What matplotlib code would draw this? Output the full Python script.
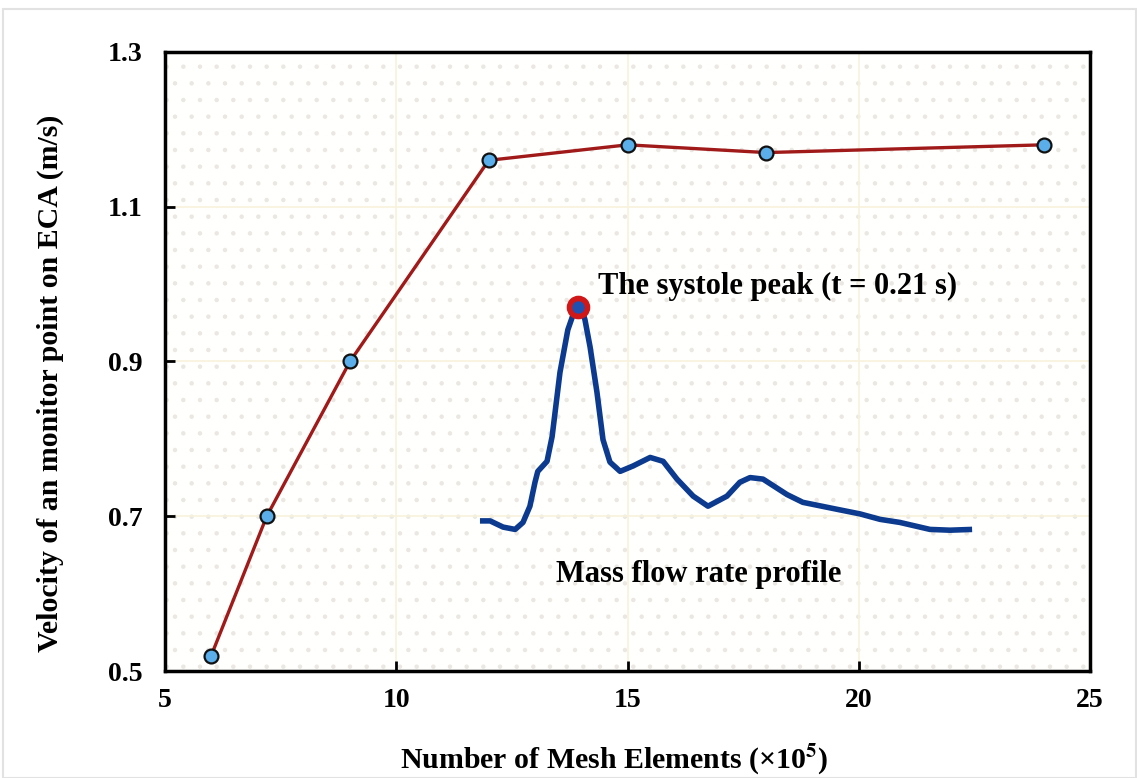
import matplotlib.pyplot as plt
import matplotlib.patches as mpatches

plt.rcParams['font.family'] = ['Liberation Serif', 'DejaVu Serif']
plt.rcParams['font.weight'] = 'bold'
plt.rcParams['mathtext.fontset'] = 'stix'
plt.rcParams['hatch.linewidth'] = 0.8

# mesh independence data (x in 1e5 elements)
mesh = [6, 7.2, 9, 12, 15, 18, 24]
velocity = [0.52, 0.70, 0.90, 1.16, 1.18, 1.17, 1.18]

# inset mass flow rate profile (plotted in data coords)
profile_x = [11.81, 12.03, 12.31, 12.57, 12.74, 12.89, 13.0, 13.06, 13.26, 13.37,
             13.54, 13.71, 13.85, 13.93, 14.02, 14.08, 14.19, 14.34, 14.47, 14.62,
             14.84, 15.12, 15.49, 15.77, 16.07, 16.42, 16.74, 17.15, 17.43, 17.65,
             17.93, 18.45, 18.79, 19.53, 20.03, 20.46, 20.89, 21.54, 21.97, 22.45]
profile_y = [0.694, 0.694, 0.686, 0.683, 0.692, 0.713, 0.744, 0.758, 0.771, 0.803,
             0.886, 0.941, 0.965, 0.971, 0.966, 0.954, 0.919, 0.860, 0.799, 0.770,
             0.758, 0.765, 0.776, 0.771, 0.748, 0.726, 0.713, 0.726, 0.744, 0.750,
             0.748, 0.728, 0.718, 0.709, 0.703, 0.696, 0.692, 0.683, 0.682, 0.683]
peak = (13.93, 0.971)

fig = plt.figure(figsize=(11.37, 7.78), dpi=100)
fig.patches.append(mpatches.Rectangle((0.003, 0.0), 0.996, 0.989, transform=fig.transFigure,
                                      fill=False, edgecolor='#e2e2e2', linewidth=1.5))
ax = fig.add_axes([0.1451, 0.1375, 0.8136, 0.7957])
ax.set_facecolor('#fffffd')
# dotted paper background
ax.add_patch(mpatches.Rectangle((0, 0), 1, 1, transform=ax.transAxes, fill=False,
                                hatch='.', edgecolor='#ebe8e3', linewidth=0, zorder=0))

ax.grid(True, color='#f7f2dc', linewidth=1.2)
ax.set_axisbelow(True)

ax.plot(mesh, velocity, color='#a01a1a', linewidth=2.4, marker='o', markersize=10,
        markerfacecolor='#5aaeea', markeredgecolor='#111111', markeredgewidth=1.6, zorder=3)

ax.plot(profile_x, profile_y, color='#0b3a8e', linewidth=4, solid_capstyle='butt',
        solid_joinstyle='round', zorder=3)
ax.plot(*peak, marker='o', markersize=13, markerfacecolor='#2050b0', markeredgecolor='#d01818',
        markeredgewidth=4, zorder=4)

ax.text(14.36, 0.997, 'The systole peak (t = 0.21 s)', fontsize=22, fontweight='bold',
        ha='left', va='center')
ax.text(13.45, 0.625, 'Mass flow rate profile', fontsize=22, fontweight='bold',
        ha='left', va='center')

ax.set_xlim(5, 25)
ax.set_ylim(0.5, 1.3)
ax.set_xticks([5, 10, 15, 20, 25])
ax.set_yticks([0.5, 0.7, 0.9, 1.1, 1.3])
ax.set_yticklabels(['0.5', '0.7', '0.9', '1.1', '1.3'])
ax.tick_params(direction='in', length=7, width=2, labelsize=20, pad=16)
ax.tick_params(axis='x', pad=12)
for s in ax.spines.values():
    s.set_linewidth(2.5)

ax.set_xlabel('Number of Mesh Elements (×10$^\\mathbf{5}$)', fontsize=21.5, fontweight='bold')
ax.set_ylabel('Velocity of an monitor point on ECA (m/s)', fontsize=21.5, fontweight='bold')
ax.xaxis.label.set_va('center')
ax.yaxis.label.set_va('center')
ax.xaxis.set_label_coords(0.486, -0.142)
ax.yaxis.set_label_coords(-0.124, 0.465)

plt.savefig('out.png', dpi=100)
